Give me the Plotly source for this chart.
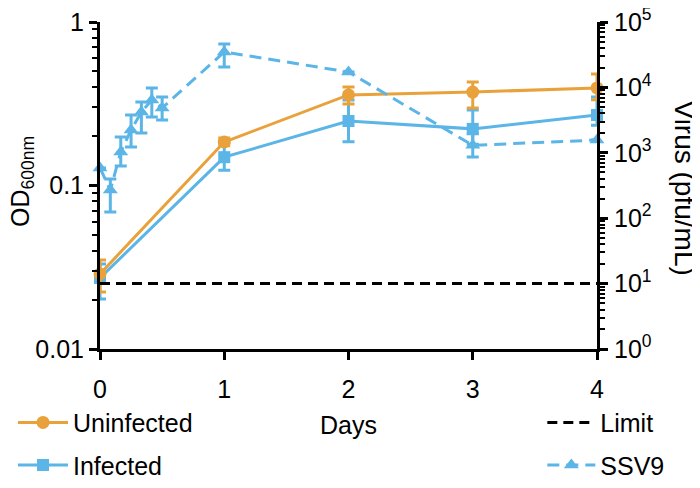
import plotly.graph_objects as go

# ---- data ----
days = [0, 1, 2, 3, 4]
uninf_od = [0.0288, 0.1845, 0.358, 0.373, 0.395]
uninf_hi = [0.035, 0.195, 0.40, 0.43, 0.481]
uninf_lo = [0.0223, 0.175, 0.315, 0.298, 0.334]

inf_od = [0.0272, 0.149, 0.248, 0.222, 0.27]
inf_hi = [0.0331, 0.182, 0.333, 0.29, 0.348]
inf_lo = [0.0202, 0.124, 0.185, 0.179, 0.234]

ssv_days = [0, 0.083, 0.167, 0.25, 0.333, 0.417, 0.5, 1, 2, 3, 4]
ssv_pfu = [586, 270, 1030, 2230, 4200, 6420, 4840, 34800, 17200, 1300, 1570]
ssv_hi = [586, 398, 1740, 3785, 5980, 9800, 7130, 46100, 17200, 1960, 1570]
ssv_lo = [586, 124, 630, 1227, 2010, 3525, 3175, 20500, 17200, 862, 1570]

limit_days = [0, 4]
limit_pfu = [10, 10]

left_tickvals = [0.01, 0.1, 1]
left_ticktext = ["0.01", "0.1", "1"]
right_tickvals = [1, 10, 100, 1000, 10000, 100000]
right_ticktext = ["10<sup>%d</sup>" % i for i in range(6)]
x_tickvals = [0, 1, 2, 3, 4]

ORANGE = "#E9A23B"
BLUE = "#5BB5E6"
FONT = "Liberation Sans, Arial, sans-serif"
FS = 25


def err(vals, hi, lo, color):
    return dict(type="data", symmetric=False,
                array=[h - v for h, v in zip(hi, vals)],
                arrayminus=[v - l for v, l in zip(vals, lo)],
                thickness=3, width=6, color=color)


fig = go.Figure()

fig.add_trace(go.Scatter(
    x=limit_days, y=limit_pfu, yaxis="y2", name="Limit", mode="lines",
    line=dict(color="black", width=3, dash="10px,6px"),
    legend="legend2", legendgroup="limit", legendrank=1))

fig.add_trace(go.Scatter(
    x=ssv_days, y=ssv_pfu, yaxis="y2", name="SSV9", mode="lines+markers",
    line=dict(color=BLUE, width=3, dash="12px,7px"),
    marker=dict(symbol="triangle-up", size=13, color=BLUE),
    error_y=err(ssv_pfu, ssv_hi, ssv_lo, BLUE), cliponaxis=False,
    legend="legend2", legendgroup="ssv", legendrank=2))

fig.add_trace(go.Scatter(
    x=days, y=inf_od, name="Infected", mode="lines+markers",
    line=dict(color=BLUE, width=3),
    marker=dict(symbol="square", size=12, color=BLUE),
    error_y=err(inf_od, inf_hi, inf_lo, BLUE), cliponaxis=False,
    legend="legend", legendgroup="inf", legendrank=2))

fig.add_trace(go.Scatter(
    x=days, y=uninf_od, name="Uninfected", mode="lines+markers",
    line=dict(color=ORANGE, width=3),
    marker=dict(symbol="circle", size=13, color=ORANGE),
    error_y=err(uninf_od, uninf_hi, uninf_lo, ORANGE), cliponaxis=False,
    legend="legend", legendgroup="uninf", legendrank=1))

axis_common = dict(showline=True, linecolor="black", linewidth=3,
                   ticks="outside", tickcolor="black", tickwidth=3, ticklen=8,
                   showgrid=False, zeroline=False, ticklabeloverflow="allow",
                   tickfont=dict(family=FONT, size=FS, color="black"))

# The page body has an 8px margin, so the figure is 8px smaller on each side.
fig.update_layout(
    width=692, height=480,
    margin=dict(l=92, r=103, t=14, b=139, autoexpand=False),
    paper_bgcolor="white", plot_bgcolor="white",
    font=dict(family=FONT, size=FS, color="black"),
    xaxis=dict(range=[0, 4], tickvals=x_tickvals, ticklabelstandoff=8,
               title=dict(text="Days", standoff=15,
                          font=dict(family=FONT, size=FS)),
               **axis_common),
    yaxis=dict(type="log", range=[-2, 0], tickvals=left_tickvals,
               ticktext=left_ticktext,
               minor=dict(ticks="outside", ticklen=5, tickwidth=2,
                          tickcolor="black", dtick="D1"),
               **axis_common),
    yaxis2=dict(type="log", range=[0, 5], overlaying="y", side="right",
                tickvals=right_tickvals, ticktext=right_ticktext,
                ticklabelstandoff=1,
                minor=dict(ticks="outside", ticklen=5, tickwidth=2,
                           tickcolor="black", dtick="D1"),
                **axis_common),
    legend=dict(x=-0.175, y=-0.155, xanchor="left", yanchor="top",
                orientation="v", tracegroupgap=7, itemwidth=50,
                bgcolor="rgba(0,0,0,0)",
                font=dict(family=FONT, size=FS)),
    legend2=dict(x=0.89, y=-0.155, xanchor="left", yanchor="top",
                 orientation="v", tracegroupgap=7, itemwidth=48,
                 bgcolor="rgba(0,0,0,0)",
                 font=dict(family=FONT, size=FS)),
    annotations=[
        dict(text="OD<sub>600nm</sub>", xref="paper", yref="paper",
             x=-0.157, y=0.514, textangle=-90, showarrow=False,
             font=dict(family=FONT, size=FS), xanchor="center", yanchor="middle"),
        dict(text="Virus (pfu/mL)", xref="paper", yref="paper",
             x=1.177, y=0.491, textangle=90, showarrow=False,
             font=dict(family=FONT, size=28), xanchor="center", yanchor="middle"),
    ],
)

fig.write_html("out.html")
